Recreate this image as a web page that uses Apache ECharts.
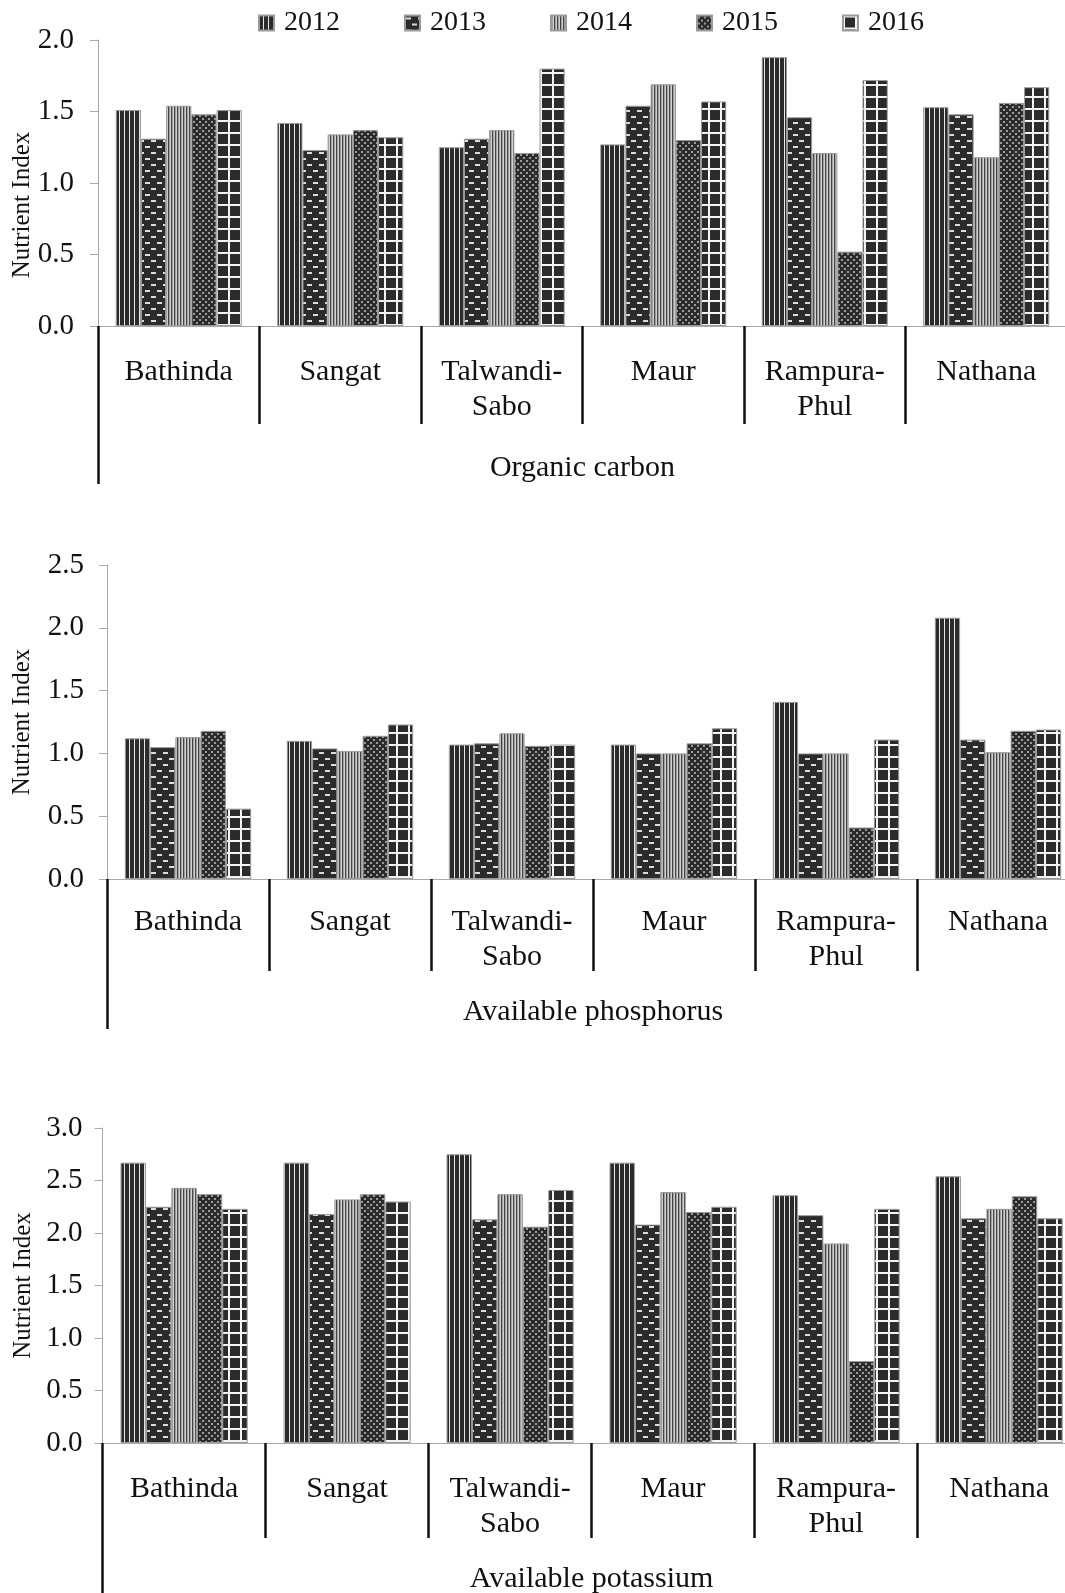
<!DOCTYPE html>
<html>
<head>
<meta charset="utf-8">
<script src="https://cdn.jsdelivr.net/npm/echarts@6/dist/echarts.min.js"></script>
<style>
html,body{margin:0;padding:0;background:#fff;}
#chart{width:1065px;height:1593px;}
</style>
</head>
<body>
<div id="chart"></div>
<script>
// ---------- DATA ----------
const categories = ['Bathinda', 'Sangat', 'Talwandi-\nSabo', 'Maur', 'Rampura-\nPhul', 'Nathana'];
const years = ['2012', '2013', '2014', '2015', '2016'];
const panelTitles = ['Organic carbon', 'Available phosphorus', 'Available potassium'];
const yAxisName = 'Nutrient Index';

const oc2012 = [1.51, 1.42, 1.25, 1.27, 1.88, 1.53];
const oc2013 = [1.31, 1.23, 1.31, 1.54, 1.46, 1.48];
const oc2014 = [1.54, 1.34, 1.37, 1.69, 1.21, 1.18];
const oc2015 = [1.48, 1.37, 1.21, 1.30, 0.52, 1.56];
const oc2016 = [1.51, 1.32, 1.80, 1.57, 1.72, 1.67];

const p2012 = [1.12, 1.10, 1.07, 1.07, 1.41, 2.08];
const p2013 = [1.05, 1.04, 1.08, 1.00, 1.00, 1.11];
const p2014 = [1.13, 1.02, 1.16, 1.00, 1.00, 1.01];
const p2015 = [1.18, 1.14, 1.06, 1.08, 0.41, 1.18];
const p2016 = [0.56, 1.23, 1.07, 1.20, 1.11, 1.19];

const k2012 = [2.67, 2.67, 2.75, 2.67, 2.36, 2.54];
const k2013 = [2.25, 2.18, 2.13, 2.08, 2.17, 2.14];
const k2014 = [2.43, 2.32, 2.37, 2.39, 1.90, 2.23];
const k2015 = [2.37, 2.37, 2.06, 2.20, 0.78, 2.35];
const k2016 = [2.23, 2.30, 2.41, 2.25, 2.23, 2.14];

const yMax = [2.0, 2.5, 3.0];
const yTicks = [0.5, 0.5, 0.5];

// ---------- STYLE ----------
const FONT = "'Liberation Serif', 'Times New Roman', serif";
const DARK = '#2b2b2b';

function pat(w, h, draw) {
  const c = document.createElement('canvas');
  c.width = w; c.height = h;
  const g = c.getContext('2d');
  g.fillStyle = DARK; g.fillRect(0, 0, w, h);
  draw(g);
  return { image: c, repeat: 'repeat' };
}
const patterns = [
  pat(5, 4, g => { g.fillStyle = '#e8e8e8'; g.fillRect(4, 0, 1, 4); }),
  pat(12, 12, g => { g.fillStyle = '#dcdcdc'; g.fillRect(1, 2, 5, 2); g.fillRect(7, 8, 5, 2); }),
  pat(3, 4, g => { g.fillStyle = '#444'; g.fillRect(0, 0, 1, 4); g.fillStyle = '#a0a0a0'; g.fillRect(1, 0, 1, 4); g.fillStyle = '#d0d0d0'; g.fillRect(2, 0, 1, 4); }),
  pat(6, 6, g => { g.fillStyle = '#9a9a9a'; g.fillRect(1, 1, 2, 2); g.fillRect(4, 4, 2, 2); }),
  pat(12, 12, g => { g.fillStyle = '#f4f4f4'; g.fillRect(0, 0, 12, 2); g.fillRect(0, 0, 2, 12); })
];

const panels = [
  { vals: [oc2012, oc2013, oc2014, oc2015, oc2016], left: 98, top: 40, width: 969, height: 286,
    labelMargin: 29, tickLen: 98, titleMargin: 125, longTick: 158, yLabelMargin: 24, nameGap: 63, namePad: [0, 44, 0, 0] },
  { vals: [p2012, p2013, p2014, p2015, p2016], left: 107, top: 565, width: 972, height: 314,
    labelMargin: 26, tickLen: 92, titleMargin: 116, longTick: 150, yLabelMargin: 23, nameGap: 72, namePad: [0, 0, 0, 0] },
  { vals: [k2012, k2013, k2014, k2015, k2016], left: 102.6, top: 1128, width: 978, height: 315,
    labelMargin: 29, tickLen: 95, titleMargin: 119, longTick: 152, yLabelMargin: 20, nameGap: 67, namePad: [0, 0, 0, 0] }
];

const grid = [], xAxis = [], yAxis = [], series = [];
panels.forEach((p, i) => {
  grid.push({ left: p.left, top: p.top, width: p.width, height: p.height,
              containLabel: false, outerBoundsMode: 'none' });
  // category axis
  xAxis.push({
    type: 'category', gridIndex: i, data: categories, position: 'bottom',
    axisLine: { show: true, lineStyle: { color: '#aaaaaa', width: 1 } },
    axisTick: { show: true, interval: 0, length: p.tickLen, lineStyle: { color: '#111', width: 2.5 } },
    axisLabel: { interval: 0, margin: p.labelMargin, color: '#111', fontSize: 30,
                 fontFamily: FONT, lineHeight: 35 }
  });
  // panel title axis
  xAxis.push({
    type: 'category', gridIndex: i, data: [panelTitles[i]], position: 'bottom',
    axisLine: { show: false },
    axisTick: { show: true, length: p.longTick, lineStyle: { color: '#111', width: 2.5 } },
    axisLabel: { margin: p.titleMargin, color: '#111', fontSize: 30, fontFamily: FONT, lineHeight: 35 }
  });
  yAxis.push({
    type: 'value', gridIndex: i, min: 0, max: yMax[i], interval: yTicks[i],
    name: yAxisName, nameLocation: 'middle', nameGap: p.nameGap, nameMoveOverlap: false,
    nameTextStyle: { fontSize: 25, fontFamily: FONT, color: '#111', padding: p.namePad },
    axisLine: { show: true, lineStyle: { color: '#aaaaaa', width: 1 } },
    axisTick: { show: true, length: 8, lineStyle: { color: '#aaaaaa' } },
    splitLine: { show: false },
    axisLabel: { margin: p.yLabelMargin, color: '#111', fontSize: 29, fontFamily: FONT,
                 formatter: v => v.toFixed(1) }
  });
  years.forEach((y, j) => {
    series.push({
      type: 'bar', name: y, xAxisIndex: i * 2, yAxisIndex: i, data: p.vals[j],
      barGap: '0%', barCategoryGap: '22%',
      itemStyle: { color: patterns[j], borderColor: '#9a9a9a', borderWidth: 1 },
      emphasis: { disabled: true }
    });
  });
});

const chart = echarts.init(document.getElementById('chart'), null, { renderer: 'canvas' });
chart.setOption({
  animation: false,
  backgroundColor: '#ffffff',
  legend: {
    data: years, top: 4, left: 253, icon: 'rect', itemWidth: 15, itemHeight: 15, itemGap: 64,
    textStyle: { fontSize: 28, fontFamily: FONT, color: '#111', padding: [0, 0, 0, 5] }
  },
  grid: grid, xAxis: xAxis, yAxis: yAxis, series: series
});
</script>
</body>
</html>
